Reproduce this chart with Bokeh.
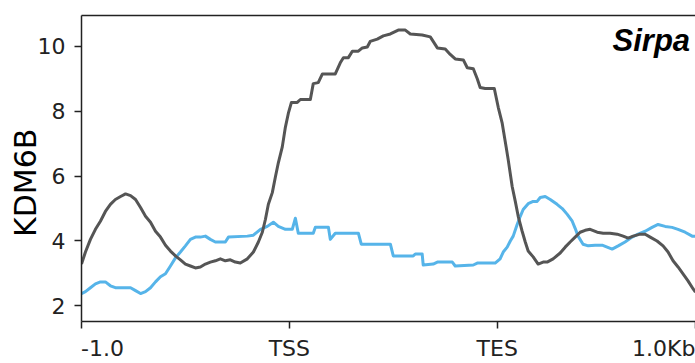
from bokeh.embed import file_html
from bokeh.models import FixedTicker, Label, LinearAxis, Range1d
from bokeh.plotting import figure
from bokeh.resources import INLINE

# Profile positions are bins: 0 = -1.0 kb, 100 = TSS, 200 = TES, 300 = +1.0 kb
tick_bins = [0, 100, 200]
tick_labels = ["-1.0", "TSS", "TES"]
end_label = "1.0Kb"
y_ticks = [2, 4, 6, 8, 10]

gene_name = "Sirpa"
y_title = "KDM6B"

# Sample 1 (grey)
grey_bins = [0, 1.9, 4.3, 6.7, 9.1, 11.5, 13.9, 16.3, 18.8, 21.2, 23.6, 26, 28.4,
             30.8, 33.2, 35.6, 38, 40.4, 42.8, 45.2, 47.6, 50, 52.4, 54.8, 57.2,
             59.6, 62, 64.4, 66.8, 69.2, 71.6, 74, 76.4, 79.8, 82.7, 85.1, 87,
             88.5, 89.9, 91.8, 93.3, 94.7, 96.6, 98.1, 99.5, 101, 103.8, 105.3,
             110.1, 111.5, 113.9, 115.9, 122.1, 124.5, 126, 128.4, 130.3, 133.2,
             135.1, 137.5, 138.9, 142.3, 145.2, 148.6, 152.4, 155.8, 158.2, 163.9,
             167.8, 171.2, 175, 177.4, 179.8, 183.7, 185.6, 188.5, 190.4, 191.8,
             194.2, 198.6, 200.5, 202.4, 204.3, 205.3, 207.2, 208.7, 210.1, 212,
             213.5, 214.9, 217.3, 219.7, 222.1, 224, 226.9, 230.3, 232.7, 235.1,
             237.5, 239.9, 242.3, 244.7, 248.1, 251, 254.3, 257.7, 260.6, 263,
             265.4, 268.8, 271.2, 273.6, 276.9, 279.8, 282.2, 284.6, 287, 289.4,
             291.8, 294.2, 295.4]
grey_vals = [3.29, 3.66, 4.05, 4.36, 4.61, 4.91, 5.13, 5.28, 5.37, 5.45, 5.40, 5.28,
             5.03, 4.76, 4.58, 4.30, 4.12, 3.87, 3.69, 3.54, 3.42, 3.29, 3.23, 3.17,
             3.20, 3.29, 3.35, 3.39, 3.45, 3.39, 3.42, 3.35, 3.32, 3.45, 3.66, 3.97,
             4.27, 4.67, 5.13, 5.49, 5.98, 6.41, 6.90, 7.51, 7.93, 8.27, 8.27, 8.36,
             8.36, 8.85, 8.88, 9.15, 9.15, 9.49, 9.65, 9.65, 9.85, 9.85, 9.95, 9.98,
             10.15, 10.22, 10.32, 10.38, 10.50, 10.50, 10.38, 10.35, 10.29, 9.95,
             9.92, 9.75, 9.61, 9.58, 9.34, 9.31, 9.00, 8.73, 8.70, 8.70, 8.12, 7.63,
             6.90, 6.50, 5.68, 5.22, 4.76, 4.30, 3.97, 3.69, 3.51, 3.29, 3.35, 3.35,
             3.45, 3.63, 3.81, 3.97, 4.12, 4.27, 4.33, 4.36, 4.27, 4.24, 4.24, 4.21,
             4.15, 4.09, 4.15, 4.21, 4.21, 4.12, 4.00, 3.85, 3.66, 3.39, 3.20, 2.99,
             2.77, 2.53, 2.42]

# Sample 2 (blue)
blue_bins = [0, 1.9, 4.3, 6.7, 9.1, 11.5, 13.9, 16.3, 23.6, 26, 28.4, 30.8, 33.2,
             35.6, 38, 40.4, 42.8, 45.2, 47.6, 50, 52.4, 54.8, 57.2, 59.6, 62, 64.4,
             69.2, 70.7, 79.8, 82.7, 86.1, 89.4, 92.3, 94.7, 98.1, 101.4, 102.9,
             104.3, 111.5, 112.5, 118.8, 119.7, 122.1, 133.2, 134.6, 148.6, 150,
             159.6, 160.6, 163.9, 164.4, 169.2, 171.2, 178.4, 179.8, 188.5, 190.4,
             199, 201.4, 202.9, 204.8, 206.3, 207.7, 209.6, 211.1, 212.5, 214.9,
             217.3, 219.2, 220.7, 223.1, 225.5, 228.8, 231.3, 233.7, 236.1, 237.5,
             238.9, 241.3, 243.8, 247.1, 250.5, 252.9, 255.3, 258.2, 261.5, 264.9,
             267.8, 271.2, 274.5, 277.4, 280.8, 284.1, 287, 290.4, 293.8, 295.4]
blue_vals = [2.38, 2.44, 2.56, 2.68, 2.74, 2.74, 2.62, 2.56, 2.56, 2.47, 2.38, 2.44,
             2.56, 2.74, 2.90, 2.99, 3.23, 3.48, 3.66, 3.85, 4.05, 4.12, 4.12, 4.15,
             4.05, 3.97, 3.97, 4.12, 4.15, 4.18, 4.36, 4.45, 4.58, 4.45, 4.36, 4.36,
             4.70, 4.24, 4.24, 4.42, 4.42, 4.05, 4.24, 4.24, 3.90, 3.90, 3.54, 3.54,
             3.60, 3.60, 3.26, 3.29, 3.35, 3.35, 3.23, 3.26, 3.32, 3.32, 3.45, 3.66,
             3.81, 4.00, 4.15, 4.51, 4.76, 4.97, 5.15, 5.22, 5.22, 5.34, 5.37, 5.28,
             5.13, 5.00, 4.82, 4.61, 4.39, 4.15, 3.90, 3.85, 3.87, 3.87, 3.81, 3.75,
             3.85, 3.97, 4.12, 4.21, 4.30, 4.42, 4.51, 4.45, 4.42, 4.36, 4.27, 4.15,
             4.15]

GREY = "#555555"
BLUE = "#56B4E9"
INK = "#222222"
TICK_FONT = "DejaVu Sans"
X_END = 295.4          # visible end of the downstream flank
FIG = "\u2007"         # figure space, used to shift labels off-centre

p = figure(
    width=695, height=363,
    x_range=Range1d(0, X_END), y_range=Range1d(1.519, 10.949),
    output_backend="svg", toolbar_location=None,
    min_border_left=81, min_border_right=0, min_border_top=15, min_border_bottom=40,
    x_axis_type=None, y_axis_type=None,
)
p.outline_line_color = None
p.grid.visible = False
p.background_fill_color = "white"
p.border_fill_color = "white"

# Left axis with the numeric ticks and the track name (padded at its end so
# the name sits a little below the middle of the axis)
yax = LinearAxis(ticker=FixedTicker(ticks=y_ticks), axis_label=y_title + FIG + "\u2008")
yax.axis_line_color = INK
yax.axis_line_width = 1.5
yax.major_tick_line_color = INK
yax.major_tick_line_width = 1.5
yax.major_tick_out = 7
yax.major_tick_in = 0
yax.minor_tick_line_color = None
yax.major_label_text_font = TICK_FONT
yax.major_label_text_font_size = "22px"
yax.major_label_text_color = INK
yax.major_label_standoff = 9
yax.axis_label_text_font = TICK_FONT
yax.axis_label_text_font_size = "30px"
yax.axis_label_text_font_style = "normal"
yax.axis_label_text_color = "black"
yax.axis_label_standoff = -8
p.add_layout(yax, "left")

# Bottom axis; the first label is padded so it starts at its tick, the
# last one (whose tick lies just past the visible edge) ends at the edge
x_ticks = tick_bins + [X_END]
overrides = {tick_bins[0]: FIG * 3 + tick_labels[0]}
for b, t in zip(tick_bins[1:], tick_labels[1:]):
    overrides[b] = t
overrides[X_END] = end_label
xax = LinearAxis(ticker=FixedTicker(ticks=x_ticks), major_label_overrides=overrides)
xax.axis_line_color = INK
xax.axis_line_width = 1.5
xax.major_tick_line_color = INK
xax.major_tick_line_width = 1.5
xax.major_tick_out = 7
xax.major_tick_in = 0
xax.minor_tick_line_color = None
xax.major_label_text_font = TICK_FONT
xax.major_label_text_font_size = "22px"
xax.major_label_text_color = INK
xax.major_label_standoff = 7
p.add_layout(xax, "below")

# Top frame line
tax = LinearAxis(ticker=FixedTicker(ticks=[]))
tax.axis_line_color = INK
tax.axis_line_width = 1.5
tax.major_tick_line_color = None
tax.minor_tick_line_color = None
tax.major_label_text_font_size = "0px"
p.add_layout(tax, "above")

p.line(blue_bins, blue_vals, line_color=BLUE, line_width=3, line_join="round")
p.line(grey_bins, grey_vals, line_color=GREY, line_width=3, line_join="round")

p.add_layout(Label(x=255.5, y=10.18, text=gene_name, text_align="left",
                   text_baseline="alphabetic", text_font="Liberation Sans",
                   text_font_style="bold italic", text_font_size="31px",
                   text_color="black"))

open("out.html", "w").write(file_html(p, INLINE))
